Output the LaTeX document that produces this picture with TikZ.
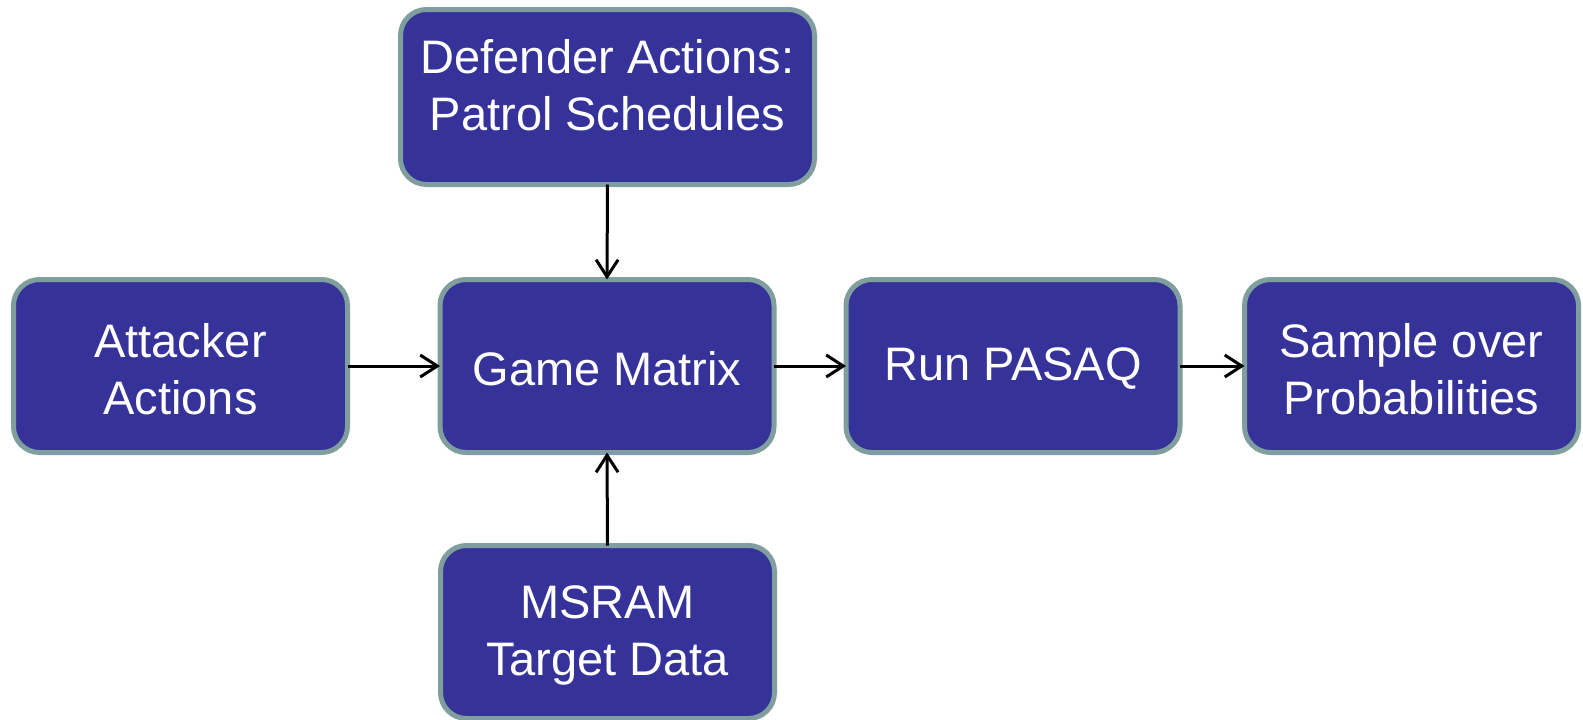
\documentclass[tikz,border=0pt]{standalone}
\usepackage{fontspec}
\setmainfont{Liberation Sans}
\usetikzlibrary{arrows.meta}
\definecolor{boxfill}{HTML}{353399}
\definecolor{boxline}{HTML}{819E9F}
\tikzset{
  box/.style={draw=boxline, line width=5pt, fill=boxfill, rounded corners=26pt,
    minimum width=334pt, minimum height=173pt, inner sep=0pt, outer sep=0pt},
  txt/.style={text=white, align=center, font=\fontsize{47}{57}\selectfont, inner sep=0pt},
  conn/.style={draw=black, line width=3pt, -{Straight Barb[length=17pt,width=22pt,line width=3pt]}}
}
\begin{document}
\begin{tikzpicture}[x=1pt,y=1pt]
\useasboundingbox (0,0) rectangle (1583,-720);
\node[box, minimum width=414pt, minimum height=175pt] (def) at (607.5,-97) {};
\node[txt] (deftext) at ([yshift=12pt]def.center) {Defender Actions:\\Patrol Schedules};
\node[box] (att) at (180.5,-366) {};
\node[txt] (atttext) at ([yshift=-3pt]att.center) {Attacker\\Actions};
\node[box] (gm) at (607,-366) {};
\node[txt] (gmtext) at ([yshift=-3pt]gm.center) {Game Matrix};
\node[box] (run) at (1013,-366) {};
\node[txt] (runtext) at ([yshift=-3pt]run.center) {Run PASAQ};
\node[box] (smp) at (1411.5,-366) {};
\node[txt] (smptext) at ([yshift=-3pt]smp.center) {Sample over\\Probabilities};
\node[box] (ms) at (607.5,-632) {};
\node[txt] (mstext) at ([yshift=-3pt]ms.center) {MSRAM\\Target Data};
\draw[conn] (def.south) -- (gm.north);
\draw[conn] (ms.north) -- (gm.south);
\draw[conn] (att.east) -- (gm.west);
\draw[conn] (gm.east) -- (run.west);
\draw[conn] (run.east) -- (smp.west);
\end{tikzpicture}
\end{document}
